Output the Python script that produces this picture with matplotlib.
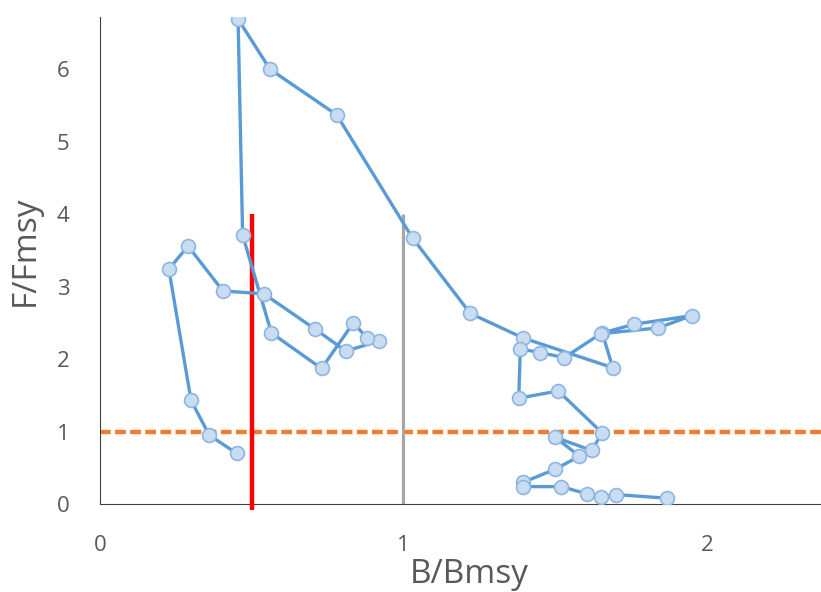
import numpy as np
import matplotlib
matplotlib.use("Agg")
import matplotlib.pyplot as plt

# B/Bmsy and F/Fmsy trajectory in path order
b_ratio = [0.45, 0.36, 0.30, 0.227, 0.29, 0.405, 0.54, 0.71, 0.81, 0.92, 0.88, 0.835,
           0.73, 0.565, 0.47, 0.455, 0.56, 0.78, 1.03, 1.22, 1.395, 1.69, 1.655, 1.76,
           1.95, 1.84, 1.65, 1.53, 1.45, 1.385, 1.38, 1.51, 1.655, 1.62, 1.50, 1.58,
           1.50, 1.395, 1.395, 1.52, 1.605, 1.65, 1.70, 1.87]
f_ratio = [0.70, 0.95, 1.43, 3.24, 3.56, 2.94, 2.90, 2.41, 2.11, 2.25, 2.29, 2.50,
           1.87, 2.36, 3.71, 6.69, 6.00, 5.37, 3.67, 2.63, 2.29, 1.88, 2.36, 2.48,
           2.60, 2.43, 2.35, 2.02, 2.09, 2.14, 1.46, 1.56, 0.98, 0.74, 0.92, 0.66,
           0.48, 0.30, 0.24, 0.24, 0.14, 0.10, 0.13, 0.08]

x_ticks = [0, 1, 2]
y_ticks = [0, 1, 2, 3, 4, 5, 6]
ref_f = 1.0          # F = Fmsy
limit_b = 0.5        # red limit line
target_b = 1.0       # grey line
ref_line_top = 4.0

plt.rcParams['font.family'] = ['Open Sans', 'DejaVu Sans']
fig = plt.figure(figsize=(8.21, 5.92), dpi=100)
ax = fig.add_axes([100/821, 88/592, 721/821, 487/592])

ax.axhline(ref_f, color='#ED7D31', lw=3.2, ls=(0, (2.4, 1.0)), zorder=2)
ax.plot([limit_b, limit_b], [-0.08, ref_line_top], color='#FF0000', lw=3.2,
        solid_capstyle='butt', zorder=3, clip_on=False)
ax.plot([target_b, target_b], [0, ref_line_top], color='#A6A6A6', lw=2.3,
        solid_capstyle='butt', zorder=3)
ax.plot(b_ratio, f_ratio, color='#5B9BD5', lw=2.4, marker='o', ms=10,
        mfc='#C9DDF2', mec='#8DB6E2', mew=1.2, zorder=4)

ax.set_xlim(0, 2.376)
ax.set_ylim(0, 6.72)
ax.set_xticks(x_ticks)
ax.set_yticks(y_ticks)
ax.tick_params(length=0, labelsize=16, colors='#595959')
ax.tick_params(axis='x', pad=22)
ax.tick_params(axis='y', pad=22)
for s in ['top', 'right']:
    ax.spines[s].set_visible(False)
ax.spines['left'].set_color('#404040')
ax.spines['bottom'].set_color('#404040')
ax.set_xlabel('B/Bmsy', fontsize=24, color='#595959')
ax.set_ylabel('F/Fmsy', fontsize=24, color='#595959')
ax.xaxis.set_label_coords(0.512, -0.110)
ax.yaxis.set_label_coords(-0.081, 0.52)

fig.savefig('out.png', dpi=100)
